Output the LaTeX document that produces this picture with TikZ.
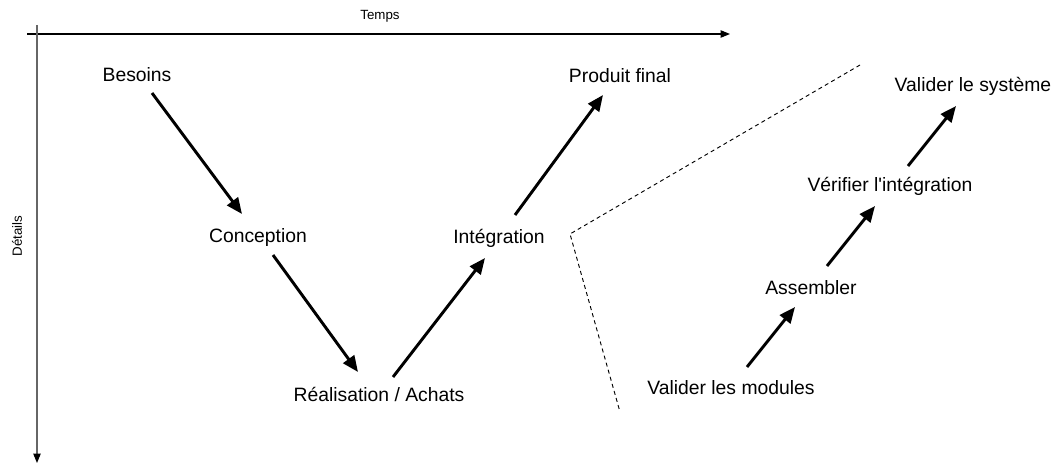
\documentclass[tikz,border=0pt]{standalone}
\usepackage{fontspec}
\setmainfont{Liberation Sans}[Ligatures=TeXOff]
\usetikzlibrary{arrows.meta}

\begin{document}
\begin{tikzpicture}[x=0.75pt, y=-0.75pt,
    stage/.style={anchor=base, inner sep=0pt, font=\fontsize{14.5}{17}\selectfont},
    axislabel/.style={inner sep=0pt, font=\fontsize{10}{12}\selectfont},
    flow/.style={line width=2.2pt, -{Triangle[length=12pt, width=10pt]}},
    axis/.style={line width=0.8pt, -{Triangle[length=7pt, width=5.5pt, color=black]}}]
    \useasboundingbox (0,0) rectangle (1054,463);

    % Axes
    \coordinate (torigin) at (27,34);
    \coordinate (tend) at (730,34);
    \coordinate (dorigin) at (37,25);
    \coordinate (dend) at (37,463);
    \draw[axis] (torigin) -- (tend);
    \draw[axis, black!60] (dorigin) -- (dend);
    \node[axislabel] (temps) at (380,16) {Temps};
    \node[axislabel, rotate=90] (details) at (17,236) {Détails};

    % V cycle
    \node[stage] (besoins) at (137,82) {Besoins};
    \node[stage] (conception) at (258,243) {Conception};
    \node[stage] (realisation) at (379,402) {Réalisation / Achats};
    \node[stage] (integration) at (499,244) {Intégration};
    \node[stage] (produit) at (620,83) {Produit final};

    \draw[flow] ([shift={(15,11)}]besoins.base) -- ([shift={(-16,-29)}]conception.base);
    \draw[flow] ([shift={(15,12)}]conception.base) -- ([shift={(-21,-30)}]realisation.base);
    \draw[flow] ([shift={(14,-25)}]realisation.base) -- ([shift={(-14,14)}]integration.base);
    \draw[flow] ([shift={(16,-29)}]integration.base) -- ([shift={(-17,12)}]produit.base);

    % Zoom on the integration branch
    \coordinate (ztop) at (860,65);
    \coordinate (zcorner) at (570,234);
    \coordinate (zbottom) at (620,412);
    \draw[dash pattern=on 3pt off 2.5pt, line width=0.7pt] (ztop) -- (zcorner) -- (zbottom);

    % Integration steps
    \node[stage] (modules) at (731,395) {Valider les modules};
    \node[stage] (assembler) at (811,295) {Assembler};
    \node[stage] (verifier) at (890,192) {Vérifier l'intégration};
    \node[stage] (systeme) at (973,92) {Valider le système};

    \draw[flow] ([shift={(16,-28)}]modules.base) -- ([shift={(-16,12)}]assembler.base);
    \draw[flow] ([shift={(16,-29)}]assembler.base) -- ([shift={(-15,14)}]verifier.base);
    \draw[flow] ([shift={(18,-26)}]verifier.base) -- ([shift={(-17,14)}]systeme.base);
\end{tikzpicture}
\end{document}
